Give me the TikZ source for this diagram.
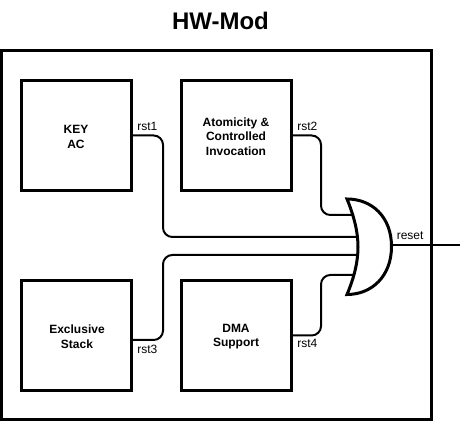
\documentclass[tikz,border=0pt]{standalone}
\usepackage{fontspec}
\setmainfont{Liberation Sans}
\newcommand{\lowertext}{\rule{0pt}{8.2pt}}
\begin{document}
\begin{tikzpicture}[x=0.75pt,y=-0.75pt,
  block/.style={draw=black,line width=2.25pt,minimum width=82.5pt,minimum height=82pt,inner sep=0pt,align=center,font=\bfseries\fontsize{9}{10.8}\selectfont},
  wire/.style={draw=black,line width=1.5pt,rounded corners=7pt},
  lab/.style={inner sep=0pt,font=\fontsize{9}{11}\selectfont}]
\useasboundingbox (0,0) rectangle (461,423);
\node[inner sep=0pt,font=\bfseries\fontsize{18}{22}\selectfont] (title) at (220.5,21) {HW-Mod};
\node[draw=black,line width=2.25pt,minimum width=322.5pt,minimum height=276.75pt,inner sep=0pt] (outer) at (216,235.5) {};
\node[block] (key) at (76,135.5) {\lowertext KEY\\AC};
\node[block] (atom) at (236,135.5) {\lowertext Atomicity \&\\Controlled\\Invocation};
\node[block] (stack) at (76,335.5) {\lowertext\hspace*{1.5pt}Exclusive\\\hspace*{1.5pt}Stack};
\node[block] (dma) at (236,335.5) {\lowertext DMA\\Support};
\coordinate (g1) at (353,215);
\coordinate (g2) at (358.5,237);
\coordinate (g3) at (358.5,255);
\coordinate (g4) at (353,275);
\coordinate (gout) at (392,245);
\coordinate (end) at (460,245);
\coordinate (s3) at (stack.east |- {0,340});
\path[wire] (key.east) -| (163,237) -- (g2);
\path[wire] (atom.east) -| (321,215) -- (g1);
\path[wire] (s3) -| (163,255) -- (g3);
\path[wire] (dma.east) -| (321,275) -- (g4);
\draw[line width=1.5pt] (gout) -- (end);
\path[draw=black,fill=white,line width=2.25pt,line join=miter]
  (347,199) .. controls (354,216) and (358,232) .. (358,247)
  .. controls (358,262) and (354,278) .. (347,294.5)
  .. controls (372,294.5) and (391.5,276) .. (391.5,246.5)
  .. controls (391.5,217) and (372,199) .. (347,199) -- cycle;
\node[lab,anchor=west] (r1) at (137,126) {rst1};
\node[lab,anchor=west] (r2) at (297,126) {rst2};
\node[lab,anchor=west] (r3) at (137,349) {rst3};
\node[lab,anchor=west] (r4) at (297,343) {rst4};
\node[lab,anchor=west] (rs) at (396.5,236) {reset};
\end{tikzpicture}
\end{document}
